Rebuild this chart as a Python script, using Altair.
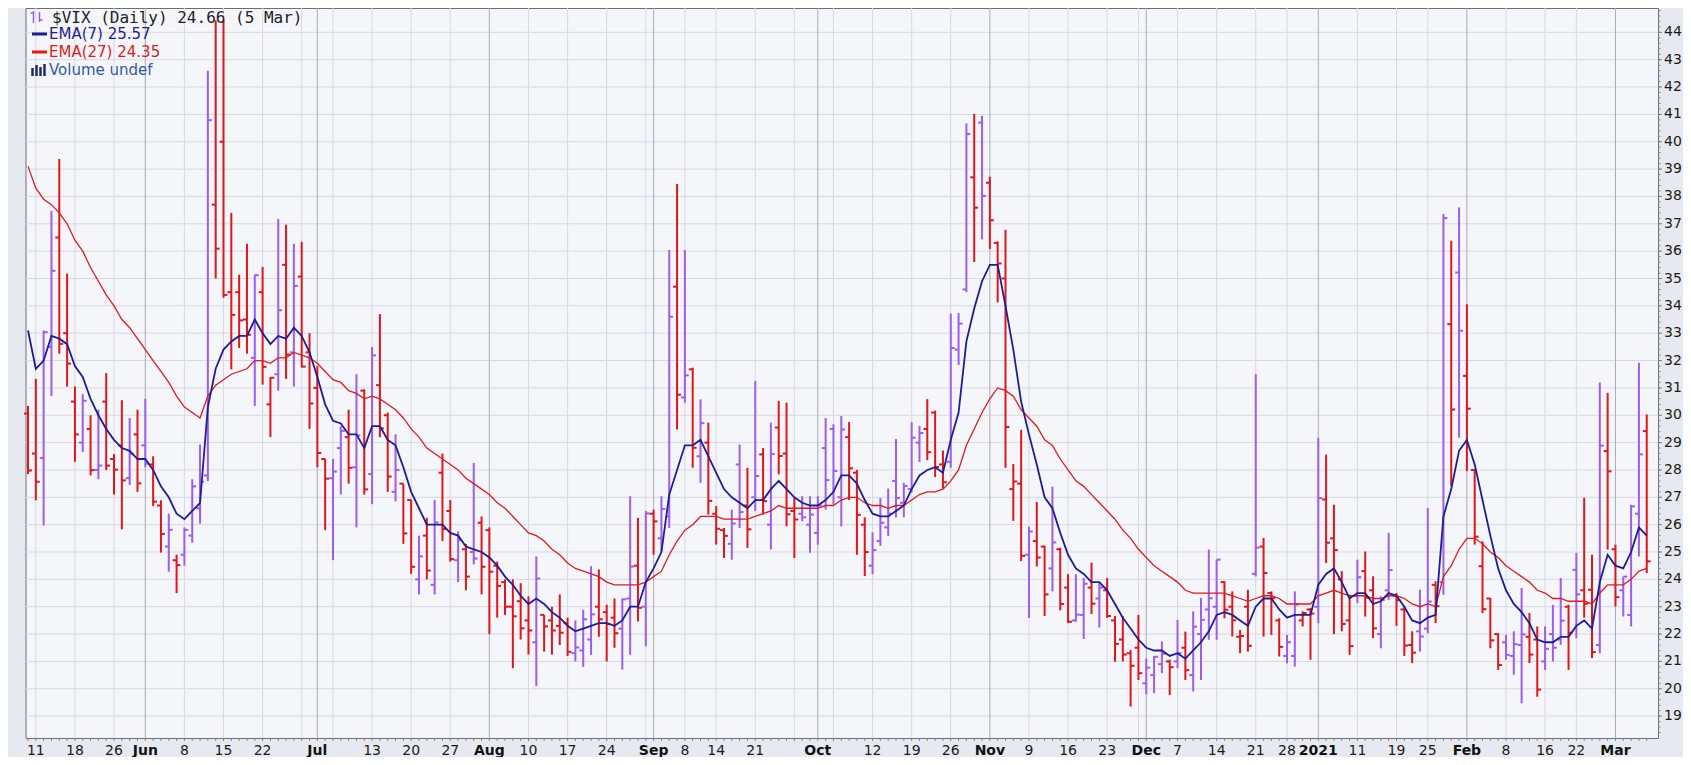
import altair as alt
import pandas as pd

# ---- OHLC values (trading days 8 May 2020 .. 5 Mar 2021) ----
opens = [30.06, 28.6, 28.44, 32.5, 36.5, 33.0, 30.5, 29.0, 29.5, 28.0, 30.5, 28.4, 28.9, 27.7, 29.3, 28.9, 28.2, 26.7, 25.2, 24.7,
         24.9, 25.6, 26.6, 27.8, 37.7, 40.0, 34.5, 34.5, 33.5, 32.1, 34.5, 30.4, 31.5, 35.5, 32.3, 35.07, 32.3, 31.0, 28.4, 27.7,
         28.8, 29.2, 28.1, 30.9, 27.85, 31.1, 30.0, 27.2, 27.5, 26.9, 24.0, 25.6, 23.8, 27.9, 26.5, 24.7, 25.1, 25.0, 26.07, 25.8,
         24.5, 23.9, 23.0, 23.2, 22.5, 21.7, 22.7, 22.5, 22.3, 22.4, 21.3, 21.4, 21.8, 23.0, 22.8, 22.6, 22.2, 23.3, 24.5, 23.0,
         26.4, 25.5, 26.3, 34.7, 30.65, 31.68, 28.5, 29.0, 26.4, 25.8, 25.3, 28.2, 26.7, 27.0, 28.57, 26.0, 29.55, 28.6, 26.5, 26.4,
         26.0, 25.7, 28.8, 29.5, 27.0, 29.2, 27.9, 26.0, 24.5, 25.4, 25.9, 27.6, 26.8, 27.3, 29.0, 29.5, 30.1, 28.2, 28.3, 32.4,
         34.6, 38.7, 40.7, 38.5, 36.3, 35.0, 27.3, 27.5, 24.9, 25.4, 25.2, 24.4, 25.1, 23.7, 22.5, 22.7, 23.7, 23.3, 23.6, 22.5,
         21.8, 21.3, 21.5, 20.2, 20.5, 20.9, 21.0, 21.0, 21.5, 20.5, 22.0, 22.9, 23.0, 23.9, 23.0, 21.9, 23.0, 24.2, 25.2, 23.5,
         22.5, 21.2, 21.2, 22.5, 22.9, 23.0, 26.92, 25.5, 24.0, 22.5, 23.4, 24.3, 23.6, 22.0, 23.6, 23.4, 22.9, 21.6, 22.1, 22.2,
         23.8, 23.9, 33.33, 35.22, 31.44, 28.0, 24.48, 23.3, 22.0, 21.7, 21.2, 21.6, 21.9, 21.8, 21.0, 22.0, 21.8, 23.0, 24.35, 23.6,
         23.62, 21.6, 28.69, 25.1, 23.6, 22.7, 26.4, 29.42]
highs = [30.34, 31.33, 33.1, 37.47, 39.37, 35.18, 31.05, 30.77, 30.0, 30.2, 31.54, 28.58, 30.55, 29.9, 30.2, 30.6, 28.5, 26.89, 26.4, 24.9,
         25.9, 27.66, 28.93, 42.6, 44.44, 44.44, 37.4, 35.14, 36.27, 35.14, 35.42, 31.4, 37.18, 36.97, 36.27, 36.34, 33.0, 31.8, 28.4, 28.4,
         29.6, 30.2, 31.5, 30.95, 32.5, 33.7, 30.1, 29.3, 27.5, 26.9, 25.6, 26.25, 26.9, 28.6, 26.9, 25.75, 25.3, 28.26, 26.3, 25.9,
         24.65, 24.0, 24.0, 23.86, 23.38, 24.84, 22.7, 23.0, 23.45, 22.6, 22.5, 22.89, 24.48, 24.36, 23.07, 23.3, 23.3, 27.04, 26.25, 26.5,
         26.55, 27.04, 36.04, 38.46, 36.04, 31.74, 30.58, 29.73, 26.68, 25.88, 26.55, 28.93, 28.08, 31.25, 28.8, 29.73, 30.52, 30.46, 26.98, 27.04,
         27.04, 27.04, 29.9, 29.67, 29.97, 29.75, 28.0, 26.27, 25.72, 26.97, 27.32, 29.13, 27.53, 29.75, 29.61, 30.59, 30.17, 28.71, 33.72, 33.74,
         40.67, 41.02, 40.95, 38.72, 36.36, 36.78, 28.22, 29.47, 25.93, 26.83, 25.23, 27.39, 25.16, 24.19, 24.19, 24.05, 24.61, 23.91, 24.05, 22.66,
         22.66, 21.42, 22.7, 21.1, 21.2, 21.73, 21.06, 22.52, 22.09, 22.83, 23.32, 25.09, 24.72, 23.93, 23.56, 22.15, 23.62, 31.5, 25.51, 23.56,
         22.58, 21.97, 23.56, 22.83, 22.95, 29.17, 28.56, 26.73, 24.3, 23.44, 24.72, 25.02, 24.11, 23.38, 25.7, 23.5, 23.0, 22.1, 23.62, 26.61,
         23.93, 37.36, 36.38, 37.6, 34.06, 28.02, 25.39, 23.32, 22.03, 21.97, 22.1, 23.68, 22.77, 22.28, 22.28, 23.07, 24.05, 23.07, 24.97, 26.98,
         24.9, 31.2, 30.82, 25.27, 24.1, 26.73, 31.92, 30.03]
lows = [27.85, 26.89, 25.97, 30.7, 32.25, 31.05, 28.3, 28.65, 27.8, 27.66, 28.0, 27.1, 25.83, 27.45, 27.2, 28.1, 26.68, 24.98, 24.28, 23.5,
        24.5, 25.34, 26.04, 27.6, 35.0, 34.3, 31.68, 32.46, 32.25, 30.34, 31.12, 29.2, 30.9, 31.33, 31.05, 31.75, 29.5, 28.1, 25.8, 24.7,
        27.1, 27.5, 25.9, 27.1, 26.75, 29.2, 27.2, 26.85, 25.3, 24.2, 23.45, 24.0, 23.45, 25.4, 24.65, 23.9, 23.6, 24.55, 23.45, 22.0,
        22.6, 22.7, 20.75, 21.8, 21.25, 20.1, 21.36, 21.25, 21.6, 21.2, 21.0, 20.8, 21.24, 21.9, 21.0, 21.5, 20.7, 21.24, 22.46, 21.55,
        24.9, 25.03, 25.88, 29.48, 30.46, 28.08, 27.53, 26.37, 25.27, 24.78, 24.72, 25.88, 25.15, 26.5, 26.37, 25.09, 27.84, 25.94, 24.78, 26.13,
        24.97, 25.27, 26.55, 26.74, 25.94, 26.9, 24.9, 24.12, 24.19, 25.23, 25.58, 26.27, 26.27, 27.18, 28.29, 28.36, 27.74, 27.32, 28.08, 31.84,
        34.5, 35.6, 36.43, 36.08, 34.13, 28.08, 26.14, 24.67, 22.59, 24.47, 22.66, 23.56, 22.87, 22.4, 22.45, 21.82, 22.73, 22.24, 22.59, 20.99,
        21.0, 19.35, 20.32, 19.8, 19.84, 20.57, 19.77, 20.75, 20.32, 19.9, 20.32, 21.79, 21.79, 22.58, 21.91, 21.3, 21.36, 24.11, 21.91, 21.97,
        21.18, 20.93, 20.81, 22.28, 21.06, 22.4, 24.6, 22.0, 22.1, 21.24, 23.13, 22.64, 21.85, 21.48, 23.25, 22.3, 21.2, 20.94, 21.36, 22.03,
        22.4, 23.44, 27.41, 29.18, 27.96, 25.27, 22.77, 21.48, 20.69, 21.06, 20.51, 19.47, 20.94, 19.71, 20.69, 21.0, 21.61, 20.69, 21.85, 22.6,
        21.12, 21.3, 25.09, 23.01, 22.64, 22.28, 24.84, 24.23]
closes = [27.98, 27.57, 33.04, 35.28, 32.61, 31.89, 29.30, 30.53, 27.99, 28.16, 28.16, 28.01, 27.62, 28.59, 27.51, 28.23, 26.84, 25.66, 25.81, 24.52,
          25.81, 27.40, 27.57, 40.79, 36.09, 34.40, 33.67, 33.47, 32.94, 35.12, 31.77, 31.37, 33.84, 32.22, 34.73, 31.78, 30.43, 28.62, 27.68, 27.94,
          29.43, 28.08, 29.26, 27.29, 32.19, 29.52, 27.76, 28.00, 25.68, 24.46, 24.84, 24.32, 26.08, 25.84, 24.74, 25.44, 24.10, 24.76, 24.46, 24.28,
          23.76, 23.00, 22.65, 22.21, 22.13, 24.03, 22.28, 22.13, 22.05, 21.35, 21.51, 22.54, 22.72, 22.54, 22.37, 22.03, 23.27, 24.47, 22.96, 26.41,
          26.12, 26.57, 33.60, 30.75, 31.46, 28.81, 29.71, 26.87, 25.85, 25.59, 26.04, 26.46, 25.83, 27.78, 26.86, 28.58, 28.51, 26.38, 26.19, 26.27,
          26.37, 26.70, 27.63, 27.96, 29.48, 28.06, 26.36, 25.00, 25.07, 26.07, 26.40, 26.97, 27.41, 29.18, 29.35, 28.65, 28.11, 27.55, 32.46, 33.35,
          40.28, 37.59, 38.02, 37.13, 35.55, 29.57, 27.58, 24.86, 25.75, 24.80, 23.45, 25.35, 23.10, 22.45, 22.71, 23.84, 23.11, 23.70, 22.66, 21.64,
          21.25, 20.84, 20.57, 20.77, 21.17, 21.28, 20.79, 21.30, 20.68, 22.27, 22.52, 23.31, 24.72, 22.89, 22.50, 21.93, 21.57, 25.16, 24.23, 23.31,
          21.53, 21.70, 23.08, 22.77, 22.75, 26.97, 25.34, 25.07, 22.37, 21.56, 24.08, 23.33, 22.21, 23.25, 24.34, 23.24, 21.58, 21.32, 21.91, 23.19,
          23.02, 37.21, 30.21, 33.09, 30.24, 25.56, 22.91, 21.77, 20.87, 21.24, 21.63, 21.99, 21.25, 19.97, 21.46, 21.50, 22.49, 22.05, 23.45, 23.11,
          21.34, 28.89, 27.95, 23.35, 24.10, 26.67, 28.57, 24.66]
# u = purple bar, d = red bar
direction = list(
    "dduudddudu" "dddududdud" "uuuudddddu" "ddududdddu" "udududdudd"
    "ududdududd" "dddddudddd" "uuuddduudu" "duudududdd" "uudududddu"
    "uuuuuddduu" "uuuuuddduu" "ududddddud" "dudduududd" "ddduuududu"
    "uuuddddudd" "duuddudddd" "udduuddduu" "dududddddu" "uudduuudud"
    "dudduuud"
)

# ---- indicator lines (values per bar) ----
ema7 = [33.1, 31.7, 32.0, 32.9, 32.8, 32.6, 31.8, 31.4, 30.6, 30.0,
        29.5, 29.1, 28.8, 28.7, 28.4, 28.4, 28.0, 27.4, 27.0, 26.4,
        26.2, 26.5, 26.8, 30.3, 31.7, 32.4, 32.7, 32.9, 32.9, 33.5,
        33.0, 32.6, 32.9, 32.8, 33.2, 32.9, 32.3, 31.4, 30.4, 29.8,
        29.7, 29.3, 29.3, 28.8, 29.6, 29.6, 29.1, 28.9, 28.1, 27.2,
        26.6, 26.0, 26.0, 26.0, 25.7, 25.6, 25.2, 25.1, 25.0, 24.8,
        24.5, 24.1, 23.8, 23.4, 23.1, 23.3, 23.1, 22.8, 22.6, 22.3,
        22.1, 22.2, 22.3, 22.4, 22.4, 22.3, 22.5, 23.0, 23.0, 23.9,
        24.4, 25.0, 27.1, 28.0, 28.9, 28.9, 29.1, 28.5, 27.9, 27.3,
        27.0, 26.8, 26.6, 26.9, 26.9, 27.3, 27.6, 27.3, 27.0, 26.8,
        26.7, 26.7, 26.9, 27.2, 27.8, 27.8, 27.5, 26.9, 26.4, 26.3,
        26.3, 26.5, 26.7, 27.3, 27.8, 28.0, 28.1, 27.9, 29.1, 30.1,
        32.7, 33.9, 34.9, 35.5, 35.5, 34.0, 32.4, 30.5, 29.3, 28.2,
        27.0, 26.6, 25.7, 24.9, 24.4, 24.2, 23.9, 23.9, 23.6, 23.1,
        22.6, 22.2, 21.8, 21.5, 21.4, 21.4, 21.2, 21.3, 21.1, 21.4,
        21.7, 22.1, 22.7, 22.8, 22.7, 22.5, 22.3, 23.0, 23.3, 23.3,
        22.9, 22.6, 22.7, 22.7, 22.7, 23.8, 24.2, 24.4, 23.9, 23.3,
        23.5, 23.5, 23.1, 23.2, 23.5, 23.4, 23.0, 22.5, 22.4, 22.6,
        22.7, 26.3, 27.3, 28.7, 29.1, 28.2, 26.9, 25.6, 24.4, 23.6,
        23.1, 22.8, 22.4, 21.8, 21.7, 21.7, 21.9, 21.9, 22.3, 22.5,
        22.2, 23.9, 24.9, 24.5, 24.4, 25.0, 25.9, 25.6]
ema27 = [39.1, 38.3, 37.9, 37.7, 37.4, 37.0, 36.4, 36.0, 35.4, 34.9,
         34.4, 34.0, 33.5, 33.2, 32.8, 32.4, 32.0, 31.6, 31.2, 30.7,
         30.3, 30.1, 29.9, 30.7, 31.1, 31.3, 31.5, 31.6, 31.7, 32.0,
         32.0, 31.9, 32.1, 32.1, 32.3, 32.2, 32.1, 31.9, 31.6, 31.3,
         31.2, 30.9, 30.8, 30.6, 30.7, 30.6, 30.4, 30.2, 29.9, 29.5,
         29.2, 28.8, 28.6, 28.4, 28.2, 28.0, 27.7, 27.5, 27.3, 27.1,
         26.8, 26.6, 26.3, 26.0, 25.7, 25.6, 25.4, 25.1, 24.9, 24.6,
         24.4, 24.3, 24.2, 24.1, 23.9, 23.8, 23.8, 23.8, 23.8, 23.9,
         24.1, 24.3, 24.9, 25.4, 25.8, 26.0, 26.3, 26.3, 26.3, 26.2,
         26.2, 26.2, 26.2, 26.3, 26.4, 26.5, 26.7, 26.6, 26.6, 26.6,
         26.6, 26.6, 26.7, 26.7, 26.9, 27.0, 27.0, 26.8, 26.7, 26.7,
         26.6, 26.7, 26.7, 26.9, 27.1, 27.2, 27.2, 27.3, 27.6, 28.0,
         28.9, 29.5, 30.1, 30.6, 31.0, 30.9, 30.7, 30.2, 29.9, 29.6,
         29.1, 28.9, 28.4, 28.0, 27.6, 27.4, 27.1, 26.8, 26.5, 26.2,
         25.8, 25.5, 25.1, 24.8, 24.5, 24.3, 24.1, 23.9, 23.6, 23.5,
         23.5, 23.5, 23.5, 23.5, 23.4, 23.3, 23.2, 23.3, 23.4, 23.4,
         23.3, 23.1, 23.1, 23.1, 23.1, 23.4, 23.5, 23.6, 23.5, 23.4,
         23.4, 23.4, 23.3, 23.3, 23.4, 23.4, 23.3, 23.1, 23.0, 23.1,
         23.0, 24.1, 24.5, 25.1, 25.5, 25.5, 25.3, 25.0, 24.8, 24.5,
         24.3, 24.1, 23.9, 23.6, 23.5, 23.3, 23.3, 23.2, 23.2, 23.2,
         23.1, 23.5, 23.8, 23.8, 23.8, 24.0, 24.3, 24.4]

# ---- x axis labels (positions are bar numbers) ----
label_idx = [1, 6, 11, 15, 20, 25, 30, 37, 44, 49, 54, 59, 64, 69, 74, 80, 84, 88, 93, 101, 108, 113, 118, 123,
             128, 133, 138, 143, 147, 152, 157, 161, 165, 170, 175, 179, 184, 189, 194, 198, 203]
label_txt = ["11", "18", "26", "Jun", "8", "15", "22", "Jul", "13", "20", "27", "Aug", "10", "17", "24", "Sep",
             "8", "14", "21", "Oct", "12", "19", "26", "Nov", "9", "16", "23", "Dec", "7", "14", "21", "28",
             "2021", "11", "19", "25", "Feb", "8", "16", "22", "Mar"]
month_idx = [15, 37, 59, 80, 101, 123, 143, 165, 184, 203]
week_only_grid_idx = [35, 39, 79, 98, 103, 142]
y_labels = list(range(19, 45))
y_minor = [round(18.4 + 0.2 * k, 1) for k in range(133)]

title_txt = "$VIX (Daily) 24.66 (5 Mar)"
leg_txt = ["EMA(7) 25.57", "EMA(27) 24.35", "Volume undef"]

W, H = 1632.5, 730
n = len(closes)
df = pd.DataFrame({
    "i": list(range(n)), "open": opens, "high": highs, "low": lows, "close": closes,
    "dir": direction, "ema7": ema7, "ema27": ema27,
})

PURPLE = "#9d5cf2"
RED = "#e0161c"
NAVY = "#1d1d96"
EMA_RED = "#e3191c"
BG = "#e6eaf0"
GRID = "#d6d9e0"
MONTH_GRID = "#a9acb5"
TICK = "#7d818b"
LABEL = "#1a1a1a"

xscale = alt.Scale(domain=[-0.32, 208.44], nice=False, zero=False)
yscale = alt.Scale(domain=[18.2, 44.89], nice=False, zero=False)
X = lambda f: alt.X(f, scale=xscale, axis=None)
Y = lambda f: alt.Y(f, scale=yscale, axis=None)

# ---- grid ----
week_grid = [g for g in sorted(set(label_idx + week_only_grid_idx)) if g not in month_idx]
ygrid = alt.Chart(pd.DataFrame({"v": y_labels})).mark_rule(color=GRID, strokeWidth=1).encode(y=Y("v:Q"))
xgrid_w = alt.Chart(pd.DataFrame({"g": week_grid})).mark_rule(color=GRID, strokeWidth=1).encode(x=X("g:Q"))
xgrid_m = alt.Chart(pd.DataFrame({"g": month_idx})).mark_rule(color=MONTH_GRID, strokeWidth=1).encode(x=X("g:Q"))

# ---- price bars ----
color = alt.Color("dir:N", scale=alt.Scale(domain=["u", "d"], range=[PURPLE, RED]), legend=None)
hl = alt.Chart(df).mark_rule(strokeWidth=2).encode(x=X("i:Q"), y=Y("low:Q"), y2="high:Q", color=color)
op = alt.Chart(df).transform_calculate(xo="datum.i - 0.5").mark_rule(strokeWidth=2).encode(
    x=X("xo:Q"), x2="i:Q", y=Y("open:Q"), color=color)
cl = alt.Chart(df).transform_calculate(xc="datum.i + 0.5").mark_rule(strokeWidth=2).encode(
    x=X("i:Q"), x2="xc:Q", y=Y("close:Q"), color=color)
e27 = alt.Chart(df).mark_line(color=EMA_RED, strokeWidth=1.3).encode(x=X("i:Q"), y=Y("ema27:Q"))
e7 = alt.Chart(df).mark_line(color=NAVY, strokeWidth=1.8).encode(x=X("i:Q"), y=Y("ema7:Q"))

# ---- right price axis ----
ymaj = alt.Chart(pd.DataFrame({"v": y_labels})).mark_rule(color=TICK, strokeWidth=1).encode(
    y=Y("v:Q"), x=alt.value(W), x2=alt.value(W + 4))
ymin = alt.Chart(pd.DataFrame({"v": y_minor})).mark_rule(color=TICK, strokeWidth=1).encode(
    y=Y("v:Q"), x=alt.value(W), x2=alt.value(W + 2.5))
ylab = alt.Chart(pd.DataFrame({"v": y_labels})).mark_text(
    align="left", baseline="middle", font="DejaVu Sans", fontSize=14, color=LABEL
).encode(y=Y("v:Q"), x=alt.value(W + 6), text="v:Q")

# ---- bottom date axis ----
xtick = alt.Chart(pd.DataFrame({"i": list(range(n))})).mark_rule(color=TICK, strokeWidth=1).encode(
    x=X("i:Q"), y=alt.value(H), y2=alt.value(H + 3))
lab_df = pd.DataFrame({"i": label_idx, "t": label_txt,
                       "w": ["bold" if i in month_idx else "normal" for i in label_idx]})
xlab_n = alt.Chart(lab_df).transform_filter("datum.w == 'normal'").mark_text(
    align="center", baseline="middle", font="DejaVu Sans", fontSize=14, color=LABEL
).encode(x=X("i:Q"), y=alt.value(H + 12.5), text="t:N")
xlab_b = alt.Chart(lab_df).transform_filter("datum.w == 'bold'").mark_text(
    align="center", baseline="middle", font="DejaVu Sans", fontSize=14, fontWeight="bold", color="#111111"
).encode(x=X("i:Q"), y=alt.value(H + 12.5), text="t:N")


# ---- legend block (top left) ----
def txt(s, xp, yp, col, font, size):
    return alt.Chart(pd.DataFrame({"t": [s]})).mark_text(
        align="left", baseline="middle", font=font, fontSize=size, color=col
    ).encode(text="t:N", x=alt.value(xp), y=alt.value(yp))


def seg(x1, x2, y1, y2, col, w):
    return alt.Chart(pd.DataFrame({"a": [0]})).mark_rule(color=col, strokeWidth=w).encode(
        x=alt.value(x1), x2=alt.value(x2), y=alt.value(y1), y2=alt.value(y2))


VOL = "#1f2d66"
texts = [
    txt(title_txt, 26.5, 10, "#222222", "DejaVu Sans Mono", 16),
    txt(leg_txt[0], 23.5, 26, NAVY, "DejaVu Sans", 15),
    txt(leg_txt[1], 23.5, 44, EMA_RED, "DejaVu Sans", 15),
    txt(leg_txt[2], 23.5, 62, "#3358a8", "DejaVu Sans", 15),
    seg(6.5, 21.5, 26, 26, NAVY, 3),
    seg(6.5, 21.5, 44, 44, EMA_RED, 3),
    seg(8, 8, 3, 15, PURPLE, 1.5),
    seg(5, 8, 5, 5, PURPLE, 1.5),
    seg(14, 14, 4, 14, PURPLE, 1.5),
    seg(14, 17, 12, 12, PURPLE, 1.5),
    seg(7, 7, 60, 68, VOL, 2.5),
    seg(11, 11, 57, 68, VOL, 2.5),
    seg(15, 15, 59, 68, VOL, 2.5),
    seg(19, 19, 56, 68, VOL, 2.5),
]

chart = alt.layer(
    ygrid, xgrid_w, xgrid_m, hl, op, cl, e27, e7, ymaj, ymin, ylab, xtick, xlab_n, xlab_b, *texts
).properties(
    width=W, height=H,
    padding={"left": 17.5, "top": 0, "right": 25, "bottom": 19},
    autosize=alt.AutoSizeParams(type="none"),
    background=BG,
).configure_view(fill="#f5f6fa", stroke="#6a6e79", strokeWidth=1)

chart.save("out.html", embed_options={"renderer": "svg", "actions": False})
